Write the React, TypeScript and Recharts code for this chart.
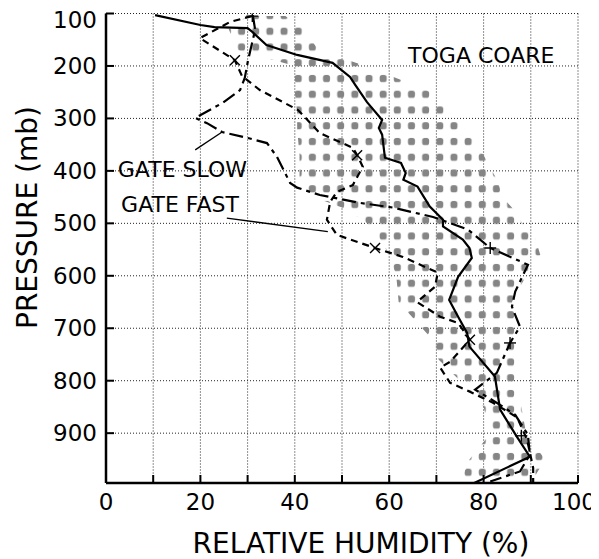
import React from 'react';
import {ComposedChart, Line, Area, XAxis, YAxis, CartesianGrid, ReferenceDot, ReferenceLine} from 'recharts';

// axes
const rhTicks = [0, 10, 20, 30, 40, 50, 60, 70, 80, 90, 100];
const pTicks = [100, 200, 300, 400, 500, 600, 700, 800, 900];
const pMinorTicks = [150, 250, 350, 450, 550, 650, 750, 850, 950];
const pDomain = [100, 995];

// TOGA COARE mean profile (solid)
const togaP = [103, 122, 126, 128, 135, 160, 179, 194, 221, 236, 269, 303, 318, 331, 375, 385, 404, 417, 430, 468, 493, 506, 531, 547, 566, 602, 646, 678, 709, 735, 792, 855, 906, 945, 995];
const togaRh = [10.4, 20, 23, 30, 31, 34, 40.5, 48, 51.7, 52.8, 55.3, 58.5, 57.8, 58.5, 59.1, 62.5, 63.5, 63, 66, 68.6, 71.4, 71.4, 75.6, 77, 77.5, 74.6, 72.7, 74.6, 76.5, 77, 82.4, 83.5, 87, 89.8, 78];

// GATE slow (dash-dot)
const slowP = [103, 131, 189, 223, 246, 270, 299, 309, 326, 337, 347, 373, 423, 432, 446, 461, 470, 488, 512, 547, 579, 630, 659, 697, 728, 785, 817, 840, 865, 903, 941, 973, 992];
const slowRh = [31.1, 31.6, 30.1, 29.4, 28.4, 24.8, 18.9, 21.4, 24.6, 29.9, 34.1, 36.2, 39, 40.5, 45.3, 53.8, 60.8, 69.3, 76.7, 81.4, 89.4, 86.7, 86, 87.7, 85.6, 82.8, 78.2, 82.4, 86.7, 89.4, 89.8, 87.7, 81.4];

// GATE fast (short dash)
const fastP = [105, 116, 147, 189, 219, 246, 284, 328, 356, 370, 392, 427, 440, 459, 493, 522, 547, 564, 594, 621, 650, 678, 690, 722, 764, 775, 804, 821, 842, 870, 912, 966, 994];
const fastRh = [30.9, 26.3, 19.9, 27.3, 28.8, 32.6, 40.7, 45.3, 52.3, 53.2, 54.4, 52.3, 48.9, 47.5, 46.8, 48.9, 57, 62.9, 70.3, 69.7, 65.9, 70.8, 74.6, 77.1, 72.9, 70.8, 72.9, 77.1, 82, 87.1, 89.2, 90.5, 90.5];

// TOGA COARE spread (stippled band)
const spreadP = [105, 130, 170, 200, 225, 250, 290, 320, 370, 420, 450, 470, 497, 530, 560, 600, 650, 680, 710, 760, 800, 850, 900, 950, 995];
const spreadLo = [30, 26, 28, 40, 40, 40, 40.5, 40.5, 41, 41, 44, 50, 55, 58, 60, 61.5, 62, 65, 68, 70.5, 75, 80, 81.5, 77, 75];
const spreadHi = [38, 42, 45, 55, 62, 69, 73, 76, 80, 83, 84, 86, 88, 91, 92, 89, 86, 87, 87, 87, 87, 88, 89, 93, 90];

// markers on the GATE curves
const markP = [105, 189, 370, 547, 547, 722, 728, 905];
const markRh = [31, 27.3, 53.2, 57, 81.4, 77.1, 85.6, 88];
const markKind = ['+', 'x', 'x', 'x', '+', 'x', '+', '+'];

const toga = togaP.map((p, i) => ({p, rh: togaRh[i]}));
const slow = slowP.map((p, i) => ({p, rh: slowRh[i]}));
const fast = fastP.map((p, i) => ({p, rh: fastRh[i]}));
const spread = spreadP.map((p, i) => ({p, range: [spreadLo[i], spreadHi[i]]}));
const marks = markP.map((p, i) => ({p, rh: markRh[i], kind: markKind[i]}));

const FONT = '"DejaVu Sans", Verdana, sans-serif';

const Marker = (props: any) => {
    const {cx, cy, payload} = props;
    if (cx == null || cy == null) return null;
    const s = 5;
    if (payload.kind === 'x') {
        return (<g stroke="#000" strokeWidth={1.4}>
            <line x1={cx - s} y1={cy - s} x2={cx + s} y2={cy + s}/>
            <line x1={cx - s} y1={cy + s} x2={cx + s} y2={cy - s}/>
        </g>);
    }
    return (<g stroke="#000" strokeWidth={1.4}>
        <line x1={cx - s - 1} y1={cy} x2={cx + s + 1} y2={cy}/>
        <line x1={cx} y1={cy - s - 1} x2={cx} y2={cy + s + 1}/>
    </g>);
};

// x tick: label only every 20, last one pulled in a bit
const RhTick = (props: any) => {
    const {x, y, payload} = props;
    const v = payload.value;
    if (v % 20 !== 0) return null;
    return (<text x={v === 100 ? x - 4 : x} y={y + 17} textAnchor="middle" fontSize={23} fontFamily={FONT} fill="#000">{v}</text>);
};

const PTick = (props: any) => {
    const {x, y, payload} = props;
    const v = payload.value;
    return (<text x={x} y={(v === 100 ? y + 6 : y) + 8} textAnchor="end" fontSize={23} fontFamily={FONT} fill="#000">{v}</text>);
};

const note = (text: string) => (props: any) => (
    <text x={props.viewBox.x} y={props.viewBox.y} fontSize={22} fontFamily={FONT} fill="#000">{text}</text>
);

const App = () => {
    return (
        <div style={{width: 591, height: 551, fontFamily: FONT, background: '#fff'}}>
            <ComposedChart width={591} height={551} layout="vertical" margin={{top: 5.5, right: 21, bottom: 0, left: 0}}>
                <defs>
                    <pattern id="stipple" patternUnits="userSpaceOnUse" width={14.16} height={15.75}>
                        <rect x={3.5} y={4} width={7} height={7} rx={2.5} fill="#858585"/>
                    </pattern>
                </defs>
                <CartesianGrid stroke="#222" strokeDasharray="1 2" strokeWidth={1}/>
                <XAxis type="number" dataKey="rh" domain={[0, 100]} ticks={rhTicks} allowDataOverflow interval={0}
                       tick={<RhTick/>} tickSize={-8} tickMargin={18} height={76}
                       axisLine={{stroke: '#000', strokeWidth: 2.5}} tickLine={{stroke: '#000', strokeWidth: 2}}
                       label={(props: any) => (
                           <text x={props.viewBox.x + props.viewBox.width / 2 + 19} y={545} textAnchor="middle"
                                 fontSize={28} fontFamily={FONT} fill="#000">RELATIVE HUMIDITY (%)</text>
                       )}/>
                <XAxis xAxisId="top" orientation="top" type="number" domain={[0, 100]} ticks={rhTicks} allowDataOverflow
                       interval={0} tick={false} tickSize={-8} height={0}
                       axisLine={{stroke: '#000', strokeWidth: 2.5}} tickLine={{stroke: '#000', strokeWidth: 2}}/>
                <YAxis type="number" dataKey="p" domain={pDomain} ticks={pTicks} allowDataOverflow interval={0}
                       tick={<PTick/>} tickSize={-8} tickMargin={17} width={98}
                       axisLine={{stroke: '#000', strokeWidth: 2.5}} tickLine={{stroke: '#000', strokeWidth: 2}}
                       label={() => (
                           <text x={29} y={209.5} textAnchor="middle" transform="rotate(-90, 29, 209.5)"
                                 fontSize={28} fontFamily={FONT} fill="#000">PRESSURE (mb)</text>
                       )}/>
                <YAxis yAxisId="minor" type="number" dataKey="p" domain={pDomain} ticks={pMinorTicks} allowDataOverflow
                       interval={0} tick={false} tickSize={-7} width={0} axisLine={false}
                       tickLine={{stroke: '#000', strokeWidth: 2}}/>
                <YAxis yAxisId="right" orientation="right" type="number" dataKey="p" domain={pDomain}
                       ticks={[...pTicks, ...pMinorTicks]} allowDataOverflow interval={0}
                       tick={false} tickSize={-8} width={0}
                       axisLine={{stroke: '#000', strokeWidth: 2.5}} tickLine={{stroke: '#000', strokeWidth: 2}}/>

                <Area data={spread} dataKey="range" type="linear" fill="url(#stipple)" fillOpacity={1}
                      stroke="none" isAnimationActive={false}/>

                <Line data={toga} dataKey="rh" type="linear" stroke="#000" strokeWidth={2.2} dot={false}
                      isAnimationActive={false}/>
                <Line data={slow} dataKey="rh" type="linear" stroke="#000" strokeWidth={2.2} strokeDasharray="14 5 4 5"
                      dot={false} isAnimationActive={false}/>
                <Line data={fast} dataKey="rh" type="linear" stroke="#000" strokeWidth={2.2} strokeDasharray="7 5"
                      dot={false} isAnimationActive={false}/>
                <Line data={marks} dataKey="rh" stroke="none" dot={<Marker/>} activeDot={false}
                      isAnimationActive={false}/>

                <ReferenceLine segment={[{x: 18.9, y: 360}, {x: 24.6, y: 326}]} stroke="#000" strokeWidth={1.3}/>
                <ReferenceLine segment={[{x: 25.6, y: 490}, {x: 47, y: 516}]} stroke="#000" strokeWidth={1.3}/>
                <ReferenceDot x={64} y={194} r={0} stroke="none" fill="none" label={note('TOGA COARE')}/>
                <ReferenceDot x={2.5} y={411} r={0} stroke="none" fill="none" label={note('GATE SLOW')}/>
                <ReferenceDot x={3.2} y={478} r={0} stroke="none" fill="none" label={note('GATE FAST')}/>
            </ComposedChart>
        </div>
    );
};

export default App;
